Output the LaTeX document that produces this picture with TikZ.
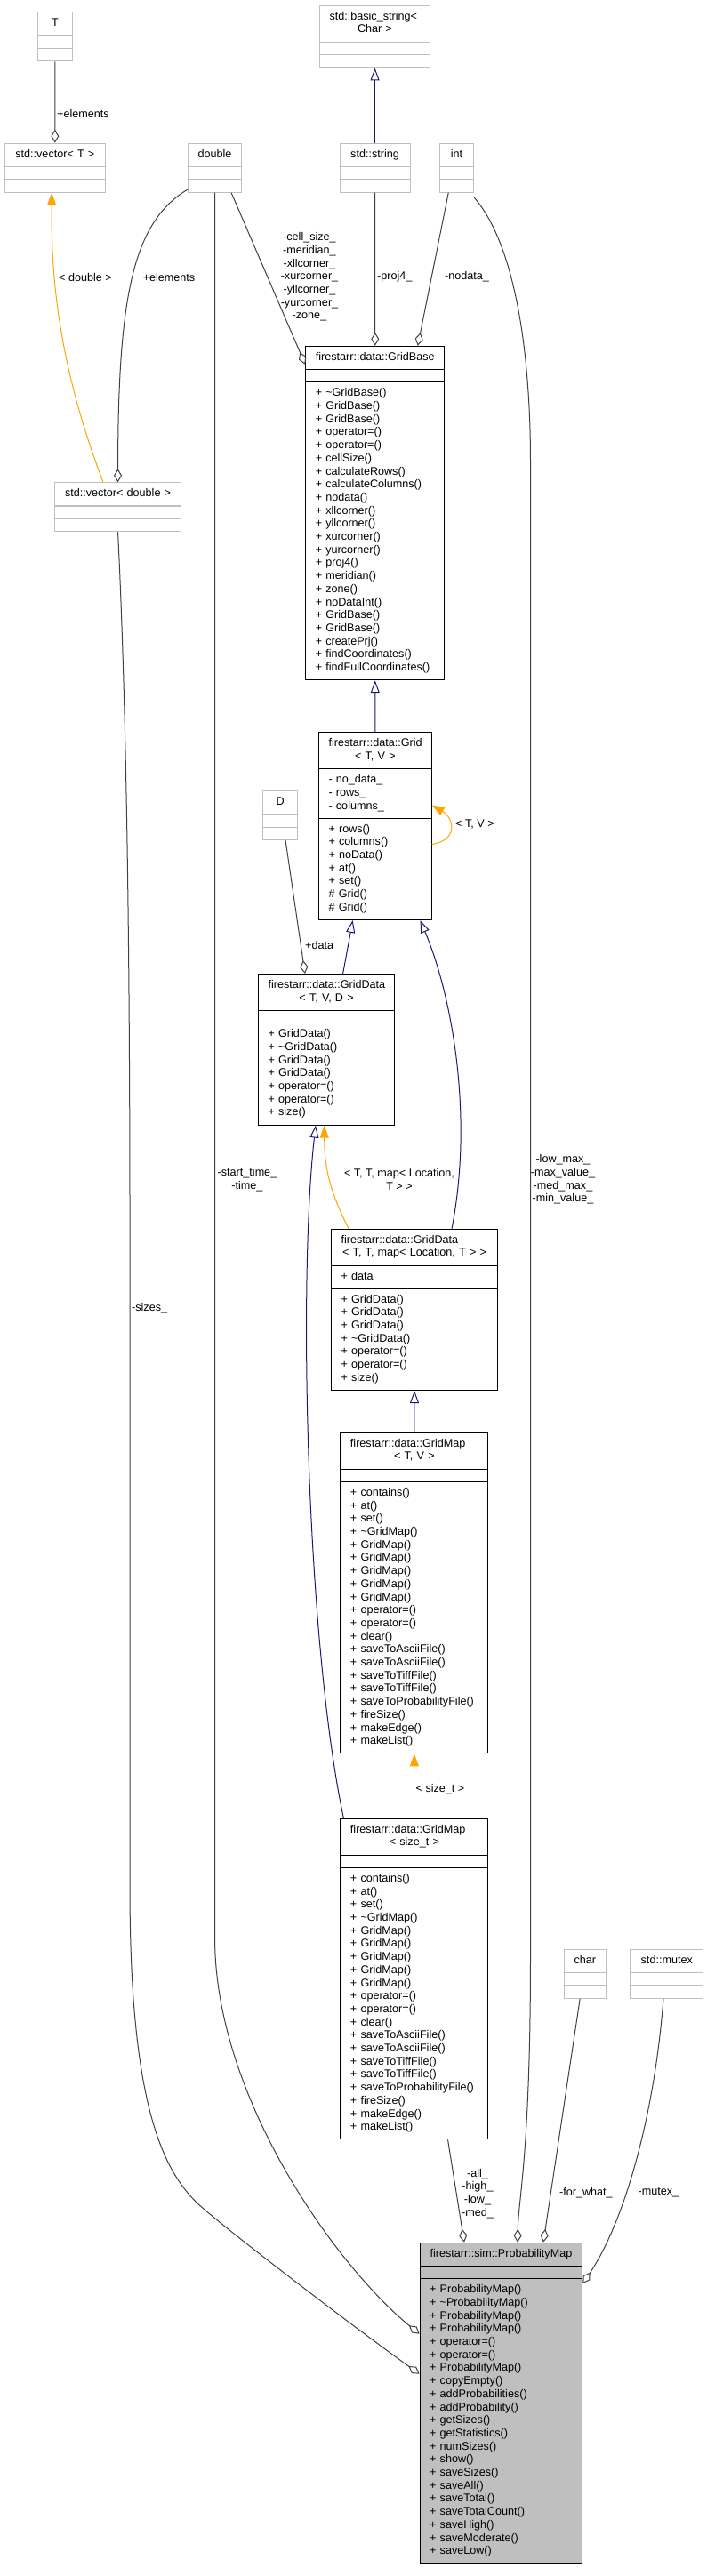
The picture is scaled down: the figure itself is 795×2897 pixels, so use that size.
\documentclass[tikz,border=0pt]{standalone}
\usepackage{fontspec}
\setmainfont{Liberation Sans}
\usepackage{xcolor}
\usepackage{tikz}
\usetikzlibrary{shapes.multipart, arrows.meta, calc}

\definecolor{edgegray}{HTML}{404040}
\definecolor{boxgray}{HTML}{BFBFBF}
\definecolor{inhblue}{HTML}{191970}
\definecolor{tmplorange}{HTML}{FFA500}

\newcommand{\members}[1]{\begin{tabular}{@{}l@{}}#1\end{tabular}}
\newcommand{\cname}[1]{\members{\makebox[\linewidth]{#1}}}
\newcommand{\cnametwo}[2]{\members{#1\\\makebox[\linewidth]{#2}}}

\begin{document}
\begin{tikzpicture}[x=1pt, y=-1pt,
    font=\fontsize{12.6}{14.7}\selectfont,
    doc/.style={rectangle split, rectangle split parts=3, draw=black, line width=1.1pt, inner xsep=11pt, inner ysep=5.15pt, align=left, anchor=north west, text width=#1pt-22pt},
    ext/.style={doc=#1, draw=boxgray},
    main/.style={doc=#1, fill=boxgray},
    member/.style={draw=edgegray, line width=1pt, -{Diamond[open, length=15pt, width=9pt]}},
    inherit/.style={draw=inhblue, line width=1pt, -{Triangle[open, length=14pt, width=10pt]}},
    tmpl/.style={draw=tmplorange, line width=1pt, -{Triangle[length=14pt, width=10pt]}},
    lbl/.style={inner sep=0pt, align=center}
]
    \path[fill=white, use as bounding box] (0,0) rectangle (795,2897);

    \node (T) [ext=39.5] at (41.6,13.3) {\cname{T}\nodepart{two}\members{}\nodepart{three}\members{}};
    \node (bstr) [ext=124] at (359,5.7) {\cnametwo{std::basic\_string<}{Char >}\nodepart{two}\members{}\nodepart{three}\members{}};
    \node (vecT) [ext=112.6] at (5,160.7) {\cname{std::vector< T >}\nodepart{two}\members{}\nodepart{three}\members{}};
    \node (double) [ext=60] at (211,160.7) {\cname{double}\nodepart{two}\members{}\nodepart{three}\members{}};
    \node (string) [ext=79] at (381.5,160.7) {\cname{std::string}\nodepart{two}\members{}\nodepart{three}\members{}};
    \node (int) [ext=38] at (494,160.7) {\cname{int}\nodepart{two}\members{}\nodepart{three}\members{}};
    \node (vecd) [ext=142.6] at (60.7,542.3) {\cname{std::vector< double >}\nodepart{two}\members{}\nodepart{three}\members{}};
    \node (D) [ext=39] at (295,889) {\cname{D}\nodepart{two}\members{}\nodepart{three}\members{}};
    \node (char) [ext=46.5] at (634,2191.6) {\cname{char}\nodepart{two}\members{}\nodepart{three}\members{}};
    \node (mutex) [ext=81.6] at (708.4,2191.6) {\cname{std::mutex}\nodepart{two}\members{}\nodepart{three}\members{}};

    \node (GridBase) [doc=156] at (343.2,388.8) {\cname{firestarr::data::GridBase}\nodepart{two}\members{}\nodepart{three}\members{+ \textasciitilde GridBase()\\+ GridBase()\\+ GridBase()\\+ operator=()\\+ operator=()\\+ cellSize()\\+ calculateRows()\\+ calculateColumns()\\+ nodata()\\+ xllcorner()\\+ yllcorner()\\+ xurcorner()\\+ yurcorner()\\+ proj4()\\+ meridian()\\+ zone()\\+ noDataInt()\\+ GridBase()\\+ GridBase()\\+ createPrj()\\+ findCoordinates()\\+ findFullCoordinates()}};
    \node (Grid) [doc=126.6] at (358,823.3) {\cnametwo{firestarr::data::Grid}{< T, V >}\nodepart{two}\members{- no\_data\_\\- rows\_\\- columns\_}\nodepart{three}\members{+ rows()\\+ columns()\\+ noData()\\+ at()\\+ set()\\\# Grid()\\\# Grid()}};
    \node (GridDataTVD) [doc=153] at (290,1095) {\cnametwo{firestarr::data::GridData}{< T, V, D >}\nodepart{two}\members{}\nodepart{three}\members{+ GridData()\\+ \textasciitilde GridData()\\+ GridData()\\+ GridData()\\+ operator=()\\+ operator=()\\+ size()}};
    \node (GridDataMap) [doc=187] at (372,1381.7) {\cnametwo{firestarr::data::GridData}{< T, T, map< Location, T > >}\nodepart{two}\members{+ data}\nodepart{three}\members{+ GridData()\\+ GridData()\\+ GridData()\\+ \textasciitilde GridData()\\+ operator=()\\+ operator=()\\+ size()}};
    \node (GridMapTV) [doc=165.8] at (382.4,1610.7) {\cnametwo{firestarr::data::GridMap}{< T, V >}\nodepart{two}\members{}\nodepart{three}\members{+ contains()\\+ at()\\+ set()\\+ \textasciitilde GridMap()\\+ GridMap()\\+ GridMap()\\+ GridMap()\\+ GridMap()\\+ GridMap()\\+ operator=()\\+ operator=()\\+ clear()\\+ saveToAsciiFile()\\+ saveToAsciiFile()\\+ saveToTiffFile()\\+ saveToTiffFile()\\+ saveToProbabilityFile()\\+ fireSize()\\+ makeEdge()\\+ makeList()}};
    \node (GridMapSize) [doc=165.8] at (382.4,2044.7) {\cnametwo{firestarr::data::GridMap}{< size\_t >}\nodepart{two}\members{}\nodepart{three}\members{+ contains()\\+ at()\\+ set()\\+ \textasciitilde GridMap()\\+ GridMap()\\+ GridMap()\\+ GridMap()\\+ GridMap()\\+ GridMap()\\+ operator=()\\+ operator=()\\+ clear()\\+ saveToAsciiFile()\\+ saveToAsciiFile()\\+ saveToTiffFile()\\+ saveToTiffFile()\\+ saveToProbabilityFile()\\+ fireSize()\\+ makeEdge()\\+ makeList()}};
    \node (PM) [main=182.6] at (471.6,2521.7) {\cname{firestarr::sim::ProbabilityMap}\nodepart{two}\members{}\nodepart{three}\members{+ ProbabilityMap()\\+ \textasciitilde ProbabilityMap()\\+ ProbabilityMap()\\+ ProbabilityMap()\\+ operator=()\\+ operator=()\\+ ProbabilityMap()\\+ copyEmpty()\\+ addProbabilities()\\+ addProbability()\\+ getSizes()\\+ getStatistics()\\+ numSizes()\\+ show()\\+ saveSizes()\\+ saveAll()\\+ saveTotal()\\+ saveTotalCount()\\+ saveHigh()\\+ saveModerate()\\+ saveLow()}};

    \draw[member] (T.south) -- (vecT.north);
    \draw[inherit] (string.north) -- (bstr.south);
    \draw[tmpl] ($(vecd.north west)+(55.3,0)$) .. controls +(-54,-142) and +(-0.7,83) .. ($(vecT.south)+(-3.6,0)$);
    \draw[member] ($(double.north west)+(0,52.3)$) .. controls +(-61,37) and +(0,-212) .. (vecd.north);
    \draw[member] (double.south) -- ++(0,1963) .. controls +(0,180) and +(-92,-75) .. ($(PM.north west)+(0,103)$);
    \draw[member] ($(double.south east)+(-12,0)$) -- ($(GridBase.north west)+(0,21)$);
    \draw[member] (string.south) -- (GridBase.north);
    \draw[member] ($(int.south)+(-9.3,0)$) -- ($(GridBase.north)+(48,0)$);
    \draw[member] ($(int.north east)+(0,61.3)$) .. controls +(42,48) and +(0,-140) .. ++(63.4,298) -- ++(0,1680) .. controls +(0,220) and +(1,-50) .. ($(PM.north west)+(110.4,0)$);
    \draw[member] (vecd.south) .. controls +(14,280) and +(0,-200) .. ++(13.5,881) -- ++(0,650) .. controls +(0.5,230) and +(-43,-40) .. ++(77.5,350) .. controls +(37,33) and +(-70,-50) .. ($(PM.north west)+(0,148)$);
    \draw[member] ($(GridMapSize.south)+(37.7,0)$) -- ($(PM.north west)+(50.4,0)$);
    \draw[member] ($(char.south)+(-5.6,0)$) -- ($(PM.north west)+(139.4,0)$);
    \draw[member] ($(mutex.south)+(-3.8,0)$) .. controls +(-10,133) and +(46,-68) .. ($(PM.north east)+(0,46.3)$);
    \draw[member] ($(D.south)+(6,0)$) -- ($(GridDataTVD.north west)+(53,0)$);

    \draw[inherit] (Grid.north) -- (GridBase.south);
    \draw[inherit] ($(GridDataTVD.north west)+(95.6,0)$) -- ($(Grid.south west)+(38.7,0)$);
    \draw[inherit] ($(GridDataMap.north west)+(136,0)$) .. controls +(24,-122) and +(37.5,89) .. ($(Grid.south west)+(114.5,0)$);
    \draw[inherit] ($(GridMapSize.north west)+(4,0)$) .. controls +(-41.4,-194.7) and +(-20,176) .. ($(GridDataTVD.south west)+(65,0)$);
    \draw[inherit] (GridMapTV.north) -- (GridDataMap.south);

    \draw[tmpl] ($(GridDataMap.north west)+(20,0)$) .. controls +(-20,-40) and +(0,50) .. ($(GridDataTVD.south west)+(74.7,0)$);
    \draw[tmpl] (GridMapSize.north) -- (GridMapTV.south);
    \draw[tmpl] ($(Grid.north east)+(0,126.3)$) .. controls +(30,-5) and +(25,15) .. ($(Grid.north east)+(0,82)$);

    \node (lElemT) [lbl, anchor=west] at (64,128) {+elements};
    \node (lDouble) [lbl] at (96,312) {< double >};
    \node (lElemD) [lbl] at (190,312) {+elements};
    \node (lGridBase) [lbl] at (348,311.5) {-cell\_size\_\\-meridian\_\\-xllcorner\_\\-xurcorner\_\\-yllcorner\_\\-yurcorner\_\\-zone\_};
    \node (lProj) [lbl, anchor=west] at (424,311) {-proj4\_};
    \node (lNodata) [lbl, anchor=west] at (500,311) {-nodata\_};
    \node (lTV) [lbl, anchor=west] at (512,927) {< T, V >};
    \node (lData) [lbl, anchor=west] at (343,1062.6) {+data};
    \node (lTime) [lbl] at (278,1326.5) {-start\_time\_\\-time\_};
    \node (lMap) [lbl] at (449,1326.5) {< T, T, map< Location,\\T > >};
    \node (lInt) [lbl] at (633,1326.5) {-low\_max\_\\-max\_value\_\\-med\_max\_\\-min\_value\_};
    \node (lSizes) [lbl, anchor=west] at (148,1471) {-sizes\_};
    \node (lSizeT) [lbl, anchor=west] at (467.5,2012) {< size\_t >};
    \node (lAll) [lbl] at (537,2466.8) {-all\_\\-high\_\\-low\_\\-med\_};
    \node (lWhat) [lbl, anchor=west] at (629,2466.4) {-for\_what\_};
    \node (lMutex) [lbl, anchor=west] at (717.5,2466) {-mutex\_};
\end{tikzpicture}
\end{document}
